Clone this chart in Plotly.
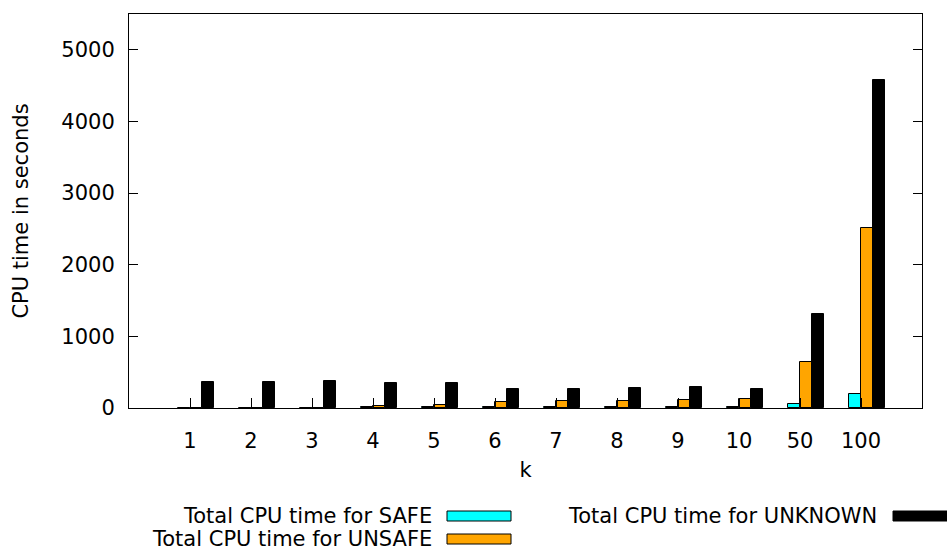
import plotly.graph_objects as go

# CPU time (seconds) per k, split by verification verdict
k_labels = ["1", "2", "3", "4", "5", "6", "7", "8", "9", "10", "50", "100"]
safe_time = [3, 4, 5, 8, 10, 12, 14, 12, 16, 18, 52, 200]
unsafe_time = [4, 5, 6, 30, 45, 85, 98, 98, 106, 125, 640, 2510]
unknown_time = [367, 363, 381, 353, 353, 270, 270, 283, 297, 270, 1307, 4580]

series = [
    ("Total CPU time for SAFE", safe_time, "#00ffff", -0.1),
    ("Total CPU time for UNSAFE", unsafe_time, "#ffa500", 0.1),
    ("Total CPU time for UNKNOWN", unknown_time, "#000000", 0.3),
]

FONT = "DejaVu Sans"
FS = 21
W, H = 947, 552
L, R, T, B = 129, 25, 14, 144
PW, PH = W - L - R, H - T - B

fig = go.Figure()
idx = list(range(len(k_labels)))
for name, vals, color, off in series:
    fig.add_trace(go.Bar(
        x=[i + off for i in idx], y=vals, width=0.2, name=name,
        marker=dict(color=color, line=dict(color="black", width=1)),
        showlegend=False,
    ))


def px_x(px):
    return (px - L) / PW


def px_y(py):
    return (H - B - py) / PH


# key below the plot: right-aligned text followed by a filled sample box
key = [
    ("Total CPU time for SAFE", "#00ffff", 434, 447, 516),
    ("Total CPU time for UNSAFE", "#ffa500", 434, 447, 539),
    ("Total CPU time for UNKNOWN", "#000000", 879, 893, 516),
]
annotations = []
shapes = []
for text, color, tx, sx, cy in key:
    annotations.append(dict(
        text=text, xref="paper", yref="paper", x=px_x(tx), y=px_y(cy),
        xanchor="right", yanchor="middle", showarrow=False,
        font=dict(family=FONT, size=FS, color="black"),
    ))
    shapes.append(dict(
        type="rect", xref="paper", yref="paper",
        x0=px_x(sx), x1=px_x(sx + 64), y0=px_y(cy + 5), y1=px_y(cy - 5),
        fillcolor=color, line=dict(color="black", width=1),
    ))

fig.update_layout(
    width=W, height=H,
    margin=dict(l=L, r=R, t=T, b=B),
    plot_bgcolor="white", paper_bgcolor="white",
    barmode="overlay", bargap=0,
    font=dict(family=FONT, size=FS, color="black"),
    annotations=annotations, shapes=shapes,
    xaxis=dict(
        range=[-1, 12], tickmode="array", tickvals=idx, ticktext=k_labels,
        ticks="inside", ticklen=10, tickcolor="black", tickwidth=1,
        showline=True, linecolor="black", linewidth=1, mirror=True,
        showgrid=False, zeroline=False, ticklabelstandoff=14,
        title=dict(text="k", standoff=10, font=dict(family=FONT, size=FS)),
        tickfont=dict(family=FONT, size=FS),
    ),
    yaxis=dict(
        range=[0, 5500], tickvals=[0, 1000, 2000, 3000, 4000, 5000],
        ticks="inside", ticklen=9, tickcolor="black", tickwidth=1,
        showline=True, linecolor="black", linewidth=1, mirror="allticks",
        showgrid=False, zeroline=False, ticklabelstandoff=9,
        title=dict(text="CPU time in seconds", standoff=26, font=dict(family=FONT, size=FS)),
        tickfont=dict(family=FONT, size=FS),
    ),
)

fig.write_html("out.html")
